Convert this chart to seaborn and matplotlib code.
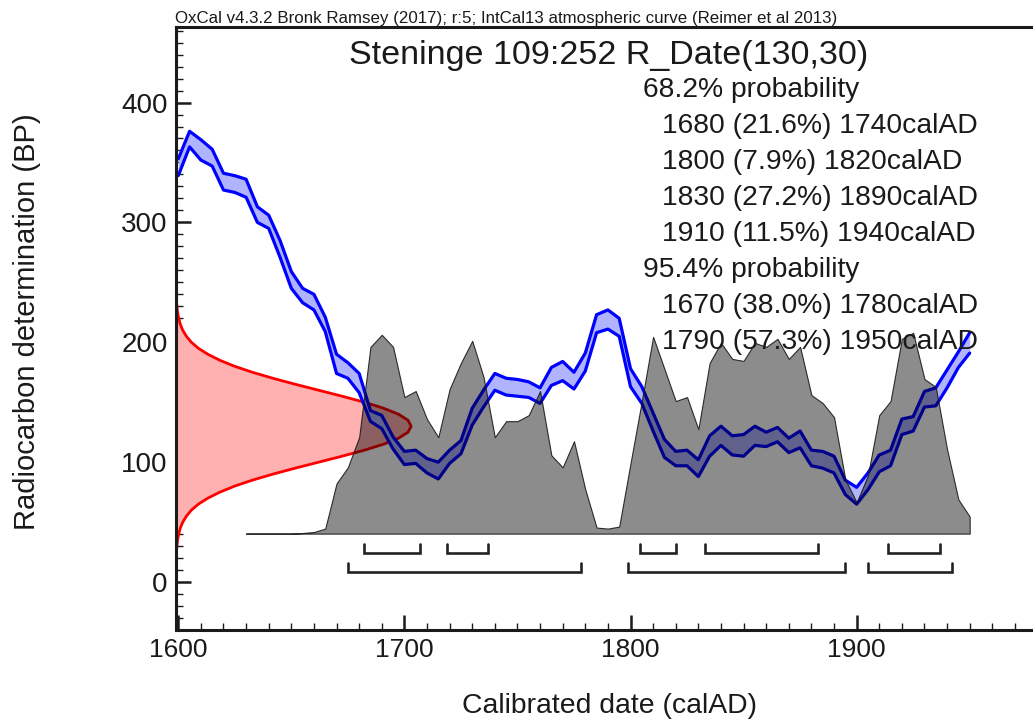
import matplotlib
matplotlib.use("Agg")
import matplotlib.pyplot as plt
from matplotlib.ticker import MultipleLocator
import seaborn as sns
import pandas as pd

# IntCal13 band, 5-year grid (calAD) -> BP
CAL_YEARS = [
    1600, 1605, 1610, 1615, 1620, 1625, 1630, 1635, 1640, 1645,
    1650, 1655, 1660, 1665, 1670, 1675, 1680, 1685, 1690, 1695,
    1700, 1705, 1710, 1715, 1720, 1725, 1730, 1735, 1740, 1745,
    1750, 1755, 1760, 1765, 1770, 1775, 1780, 1785, 1790, 1795,
    1800, 1805, 1810, 1815, 1820, 1825, 1830, 1835, 1840, 1845,
    1850, 1855, 1860, 1865, 1870, 1875, 1880, 1885, 1890, 1895,
    1900, 1905, 1910, 1915, 1920, 1925, 1930, 1935, 1940, 1945,
    1950,
]
CURVE_UPPER = [
    353, 376, 369, 361, 341, 339, 336, 313, 306, 285,
    259, 245, 240, 221, 190, 183, 174, 143, 139, 121,
    109, 110, 103, 100, 110, 118, 145, 160, 174, 170,
    169, 167, 162, 179, 184, 175, 191, 223, 227, 220,
    178, 163, 141, 119, 109, 110, 102, 122, 130, 122,
    123, 130, 125, 129, 120, 126, 110, 109, 105, 85,
    79, 91, 106, 110, 136, 138, 159, 162, 177, 192,
    208,
]
CURVE_LOWER = [
    339, 363, 352, 347, 327, 325, 321, 300, 295, 271,
    245, 233, 227, 209, 174, 170, 158, 134, 128, 111,
    98, 99, 91, 86, 99, 107, 131, 146, 160, 156,
    155, 154, 149, 164, 168, 161, 176, 208, 211, 205,
    163, 149, 126, 104, 97, 97, 88, 105, 114, 106,
    105, 114, 113, 117, 108, 112, 97, 95, 91, 73,
    65, 77, 92, 97, 123, 126, 146, 147, 162, 179,
    191,
]

# calibrated (posterior) probability, relative to its maximum
POST_YEARS = CAL_YEARS[6:]
POST_PROB = [
    0.0, 0.0, 0.0, 0.0, 0.0, 0.003, 0.008, 0.025, 0.25, 0.33,
    0.48, 0.93, 0.99, 0.93, 0.68, 0.71, 0.57, 0.48, 0.72, 0.85,
    0.96, 0.78, 0.48, 0.56, 0.56, 0.59, 0.71, 0.39, 0.33, 0.46,
    0.22, 0.03, 0.025, 0.035, 0.35, 0.66, 0.98, 0.82, 0.66, 0.68,
    0.52, 0.85, 0.95, 0.87, 0.86, 0.95, 0.93, 0.97, 0.87, 0.93,
    0.69, 0.65, 0.58, 0.27, 0.155, 0.29, 0.59, 0.66, 0.97, 1.0,
    0.77, 0.73, 0.42, 0.17, 0.085,
]

# measured date R_Date(130,30) drawn on the y axis (width in years)
RED_BP = [
    20, 25, 30, 35, 40, 45, 50, 55, 60, 65, 70, 75, 80, 85, 90, 95,
    100, 105, 110, 115, 120, 125, 130, 135, 140, 145, 150, 155, 160,
    165, 170, 175, 180, 185, 190, 195, 200, 205, 210, 215, 220, 225,
    230, 235, 240,
]
RED_WIDTH = [
    0.1, 0.2, 0.4, 0.7, 1.2, 1.9, 3.0, 4.6, 6.8, 9.9, 14.1, 19.4,
    25.9, 33.8, 42.8, 52.7, 63.1, 73.5, 83.3, 91.8, 98.4, 102.6, 104,
    102.6, 98.4, 91.8, 83.3, 73.5, 63.1, 52.7, 42.8, 33.8, 25.9, 19.4,
    14.1, 9.9, 6.8, 4.6, 3.0, 1.9, 1.2, 0.7, 0.4, 0.2, 0.1,
]

RANGES_68 = [(1682, 1707), (1719, 1737), (1804, 1820), (1833, 1883), (1914, 1937)]
RANGES_95 = [(1675, 1778), (1799, 1895), (1905, 1942)]

HEADER = "OxCal v4.3.2 Bronk Ramsey (2017); r:5; IntCal13 atmospheric curve (Reimer et al 2013)"
TITLE = "Steninge 109:252 R_Date(130,30)"
SUMMARY = [
    ("68.2% probability", False),
    ("1680 (21.6%) 1740calAD", True),
    ("1800 (7.9%) 1820calAD", True),
    ("1830 (27.2%) 1890calAD", True),
    ("1910 (11.5%) 1940calAD", True),
    ("95.4% probability", False),
    ("1670 (38.0%) 1780calAD", True),
    ("1790 (57.3%) 1950calAD", True),
]

X_MIN, X_MAX = 1599, 1978
Y_MIN, Y_MAX = -40, 463
POST_BASE = 40.4
POST_HEIGHT = 167.5
TEXT_COLOR = "#1a1a1a"

W, H = 1033, 722

sns.set_theme(style="ticks")
plt.rcParams["font.family"] = ["Liberation Sans", "DejaVu Sans"]

fig = plt.figure(figsize=(W / 100, H / 100), dpi=100)
ax = fig.add_axes([176 / W, 92 / H, 857 / W, 603 / H])
ax.set_xlim(X_MIN, X_MAX)
ax.set_ylim(Y_MIN, Y_MAX)

# measured date on the y axis
red_x = [X_MIN + w for w in RED_WIDTH]
ax.fill_betweenx(RED_BP, X_MIN, red_x, color="#ffb0b0", lw=0, zorder=1)
sns.lineplot(x=red_x, y=RED_BP, sort=False, estimator=None, color="#ff0000",
             lw=2.0, ax=ax, zorder=2)

# calibration curve band
ax.fill_between(CAL_YEARS, CURVE_LOWER, CURVE_UPPER, color="#b0b4ff", lw=0, zorder=3)
curve = pd.DataFrame({"year": CAL_YEARS, "upper": CURVE_UPPER, "lower": CURVE_LOWER})
curve = curve.melt(id_vars="year", var_name="edge", value_name="bp")
sns.lineplot(data=curve, x="year", y="bp", units="edge", estimator=None,
             color="#0000ff", lw=2.3, ax=ax, zorder=4)

# posterior distribution (semi-transparent grey over everything)
post_top = [POST_BASE + p * POST_HEIGHT for p in POST_PROB]
ax.fill_between(POST_YEARS, POST_BASE, post_top, facecolor=(0, 0, 0, 0.45),
                edgecolor=(0.1, 0.1, 0.1, 0.9), lw=0.8, zorder=5)

# range brackets
for ranges, level in [(RANGES_68, 24.6), (RANGES_95, 8.5)]:
    for a, b in ranges:
        ax.plot([a, a, b, b], [level + 7.5, level, level, level + 7.5],
                color="#222222", lw=1.9, solid_joinstyle="miter", zorder=6)

ax.xaxis.set_major_locator(MultipleLocator(100))
ax.xaxis.set_minor_locator(MultipleLocator(10))
ax.yaxis.set_major_locator(MultipleLocator(100))
ax.yaxis.set_minor_locator(MultipleLocator(10))
ax.tick_params(which="both", direction="in", colors=TEXT_COLOR, top=False, right=False)
ax.tick_params(which="major", length=10.5, width=1.8)
ax.tick_params(which="minor", length=5, width=1.0)
ax.tick_params(axis="x", labelsize=19, pad=6)
ax.tick_params(axis="y", labelsize=20, pad=6)
for side in ["left", "bottom", "top"]:
    ax.spines[side].set_linewidth(2.2)
    ax.spines[side].set_color(TEXT_COLOR)
    ax.spines[side].set_zorder(10)
ax.spines["right"].set_visible(False)

ax.set_xlabel("Calibrated date (calAD)", fontsize=20.4, color=TEXT_COLOR)
ax.xaxis.set_label_coords((609 - 176) / 857, (630 - 713) / 603)
ax.xaxis.label.set_verticalalignment("baseline")
ax.set_ylabel("Radiocarbon determination (BP)", fontsize=21, color=TEXT_COLOR)
ax.yaxis.set_label_coords((35 - 176) / 857, (630 - 322) / 603)
ax.yaxis.label.set_verticalalignment("baseline")

fig.text(175 / W, 1 - 23 / H, HEADER, fontsize=12.2, color=TEXT_COLOR,
         ha="left", va="baseline")
fig.text(609 / W, 1 - 64 / H, TITLE, fontsize=24.5, color=TEXT_COLOR,
         ha="center", va="baseline")
for i, (line, indent) in enumerate(SUMMARY):
    x = 662 if indent else 643
    fig.text(x / W, 1 - (96.7 + 36.1 * i) / H, line, fontsize=20.3,
             color=TEXT_COLOR, ha="left", va="baseline", zorder=20)

fig.savefig("out.png", dpi=100)
